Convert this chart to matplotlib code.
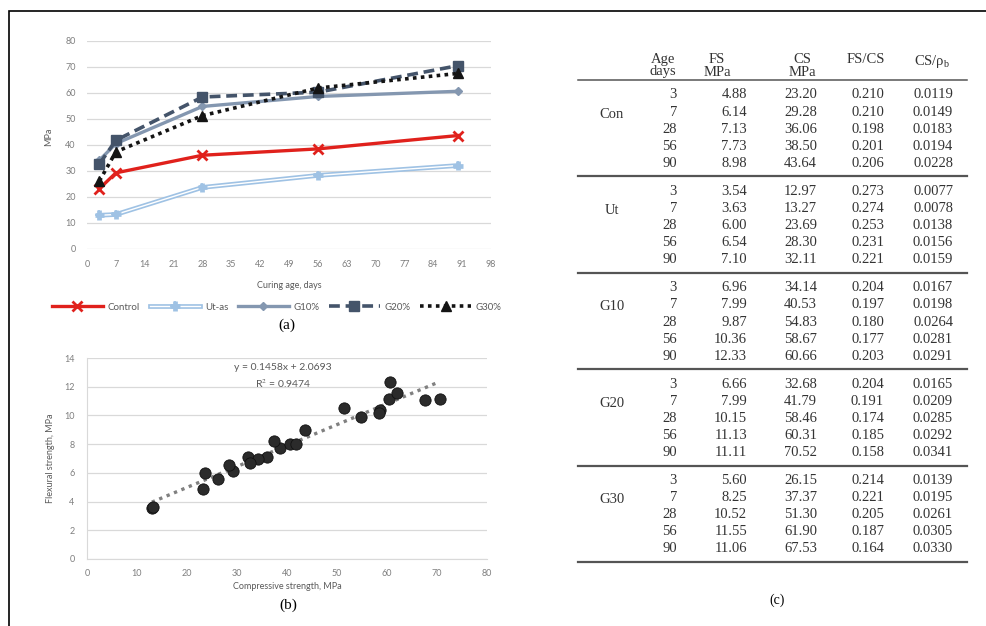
import matplotlib
matplotlib.use("Agg")
import matplotlib.pyplot as plt
import matplotlib.patheffects as pe

plt.rcParams['mathtext.fontset'] = 'stix'

# --- data -------------------------------------------------------------
ages = [3, 7, 28, 56, 90]
groups = ['Con', 'Ut', 'G10', 'G20', 'G30']
series_names = ['Control', 'Ut-as', 'G10%', 'G20%', 'G30%']

fs = {
    'Con': [4.88, 6.14, 7.13, 7.73, 8.98],
    'Ut':  [3.54, 3.63, 6.00, 6.54, 7.10],
    'G10': [6.96, 7.99, 9.87, 10.36, 12.33],
    'G20': [6.66, 7.99, 10.15, 11.13, 11.11],
    'G30': [5.60, 8.25, 10.52, 11.55, 11.06],
}
cs = {
    'Con': [23.20, 29.28, 36.06, 38.50, 43.64],
    'Ut':  [12.97, 13.27, 23.69, 28.30, 32.11],
    'G10': [34.14, 40.53, 54.83, 58.67, 60.66],
    'G20': [32.68, 41.79, 58.46, 60.31, 70.52],
    'G30': [26.15, 37.37, 51.30, 61.90, 67.53],
}
fs_cs = {
    'Con': ['0.210', '0.210', '0.198', '0.201', '0.206'],
    'Ut':  ['0.273', '0.274', '0.253', '0.231', '0.221'],
    'G10': ['0.204', '0.197', '0.180', '0.177', '0.203'],
    'G20': ['0.204', '0.191', '0.174', '0.185', '0.158'],
    'G30': ['0.214', '0.221', '0.205', '0.187', '0.164'],
}
cs_rho = {
    'Con': ['0.0119', '0.0149', '0.0183', '0.0194', '0.0228'],
    'Ut':  ['0.0077', '0.0078', '0.0138', '0.0156', '0.0159'],
    'G10': ['0.0167', '0.0198', '0.0264', '0.0281', '0.0291'],
    'G20': ['0.0165', '0.0209', '0.0285', '0.0292', '0.0341'],
    'G30': ['0.0139', '0.0195', '0.0261', '0.0305', '0.0330'],
}
slope, intercept, r2 = 0.1458, 2.0693, 0.9474

W, H = 986, 626
fig = plt.figure(figsize=(W / 100, H / 100), dpi=100)

def px_axes(x0, y0, x1, y1):
    # pixel box (left, top, right, bottom) -> figure axes
    return fig.add_axes([x0 / W, 1 - y1 / H, (x1 - x0) / W, (y1 - y0) / H])

canvas = fig.add_axes([0, 0, 1, 1])
canvas.set_xlim(0, W)
canvas.set_ylim(H, 0)
canvas.axis('off')

# outer frame (top and left edges)
canvas.plot([9, 9, W], [H, 11, 11], color='black', lw=1.2, solid_joinstyle='miter')

sans = ['Lato', 'DejaVu Sans']
serif = ['Liberation Serif', 'DejaVu Serif']
tick_col = '#7f7f7f'
grid_col = '#d9d9d9'

def style_axes(ax):
    for s in ax.spines.values():
        s.set_visible(False)
    ax.grid(axis='y', color=grid_col, lw=0.9)
    ax.set_axisbelow(True)
    ax.tick_params(length=0, labelsize=6.5, labelcolor=tick_col)
    for lab in ax.get_xticklabels() + ax.get_yticklabels():
        lab.set_family(sans)

# --- (a) strength development --------------------------------------------
ax = px_axes(87, 41, 491, 249)
styles = [
    dict(color='#e0211c', lw=2.4, marker='x', ms=7, mew=2.0),
    dict(color='white', lw=1.0, marker='+', ms=7, mew=1.2, mec='#9fc2e4',
         path_effects=[pe.Stroke(linewidth=3.4, foreground='#9fc2e4'), pe.Normal()]),
    dict(color='#8497b0', lw=2.4, marker='D', ms=4, mew=1),
    dict(color='#44546a', lw=2.6, ls=(0, (3, 1.6)), marker='s', ms=6.5),
    dict(color='#141414', lw=2.6, ls=(0, (1, 1.2)), marker='^', ms=6.5),
]
for g, name, st in zip(groups, series_names, styles):
    ax.plot(ages, cs[g], label=name, **st)
ax.set_xlim(0, 98)
ax.set_ylim(0, 80)
ax.set_xticks(range(0, 99, 7))
ax.set_yticks(range(0, 81, 10))
style_axes(ax)
ax.tick_params(axis='x', pad=8)
ax.tick_params(axis='y', pad=8)
ax.set_xlabel('Curing age, days', fontsize=6.5, color='#595959', family=sans)
ax.xaxis.set_label_coords(0.5, -0.155)
ax.set_ylabel('MPa', fontsize=6.5, color='#595959', family=sans)
ax.yaxis.set_label_coords(-0.085, 0.54)
leg = ax.legend(loc='center', bbox_to_anchor=(0.47, -0.28), ncol=5, frameon=False,
                handlelength=5.2, handletextpad=0.5, columnspacing=1.0,
                prop={'family': sans, 'size': 7})
for t in leg.get_texts():
    t.set_color('#595959')

# --- (b) flexural vs compressive strength -------------------------------
bx = px_axes(87, 358, 487, 559)
all_cs = [v for g in groups for v in cs[g]]
all_fs = [v for g in groups for v in fs[g]]
line_x = [min(all_cs), max(all_cs)]
line_y = [slope * x + intercept for x in line_x]
bx.plot(line_x, line_y, color='#808080', lw=2.4, ls=(0, (1, 1.4)), zorder=2)
bx.scatter(all_cs, all_fs, s=66, color='#2b2b2b', edgecolor='#111111', lw=0.6, zorder=3)
bx.set_xlim(0, 80)
bx.set_ylim(0, 14)
bx.set_xticks(range(0, 81, 10))
bx.set_yticks(range(0, 15, 2))
style_axes(bx)
for side in ('left', 'bottom'):
    bx.spines[side].set_visible(True)
    bx.spines[side].set_color(grid_col)
bx.tick_params(axis='x', pad=7)
bx.tick_params(axis='y', pad=9)
bx.set_xlabel('Compressive strength, MPa', fontsize=6.5, color='#595959', family=sans)
bx.xaxis.set_label_coords(0.5, -0.115)
bx.set_ylabel('Flexural strength, MPa', fontsize=6.5, color='#595959', family=sans)
bx.yaxis.set_label_coords(-0.08, 0.5)
bx.text(39.2, 13.37, f'y = {slope}x + {intercept}', ha='center', va='center',
        fontsize=7.5, color='#595959', family=sans)
bx.text(39.2, 12.25, f'R$^2$ = {r2}', ha='center', va='center',
        fontsize=7.5, color='#595959', family=sans)

# panel letters
canvas.text(287, 325, '(a)', ha='center', va='center', fontsize=11, family=serif)
canvas.text(288, 605, '(b)', ha='center', va='center', fontsize=11, family=serif)
canvas.text(777, 600, '(c)', ha='center', va='center', fontsize=10, family=serif)

# --- (c) table ------------------------------------------------------------
tcol = '#333333'
tfont = dict(fontsize=10.5, family=serif, color=tcol)
headers = [('Age\ndays', 663), ('FS\nMPa', 717), ('CS\nMPa', 802),
           ('FS/CS', 866), ('CS/ρ$_\\mathregular{b}$', 932)]
for txt, hx in headers:
    canvas.text(hx, 53, txt, ha='center', va='top', multialignment='center',
                linespacing=0.95, **tfont)

x0_rule, x1_rule = 578, 967
canvas.plot([x0_rule, x1_rule], [80, 80], color='#555555', lw=1.1)
block = 96.4
row_h = 17.1
col_right = [677, 747, 817, 884, 953]
for k, g in enumerate(groups):
    top = 80 + block * k
    canvas.text(612, top + 34, g, ha='center', va='center', **tfont)
    for i, age in enumerate(ages):
        y = top + 15 + row_h * i
        cells = [str(age), f'{fs[g][i]:.2f}', f'{cs[g][i]:.2f}', fs_cs[g][i], cs_rho[g][i]]
        for cx, c in zip(col_right, cells):
            canvas.text(cx, y, c, ha='right', va='center', **tfont)
    canvas.plot([x0_rule, x1_rule], [top + block, top + block], color='#555555', lw=1.6)

fig.savefig('out.png', dpi=100)
